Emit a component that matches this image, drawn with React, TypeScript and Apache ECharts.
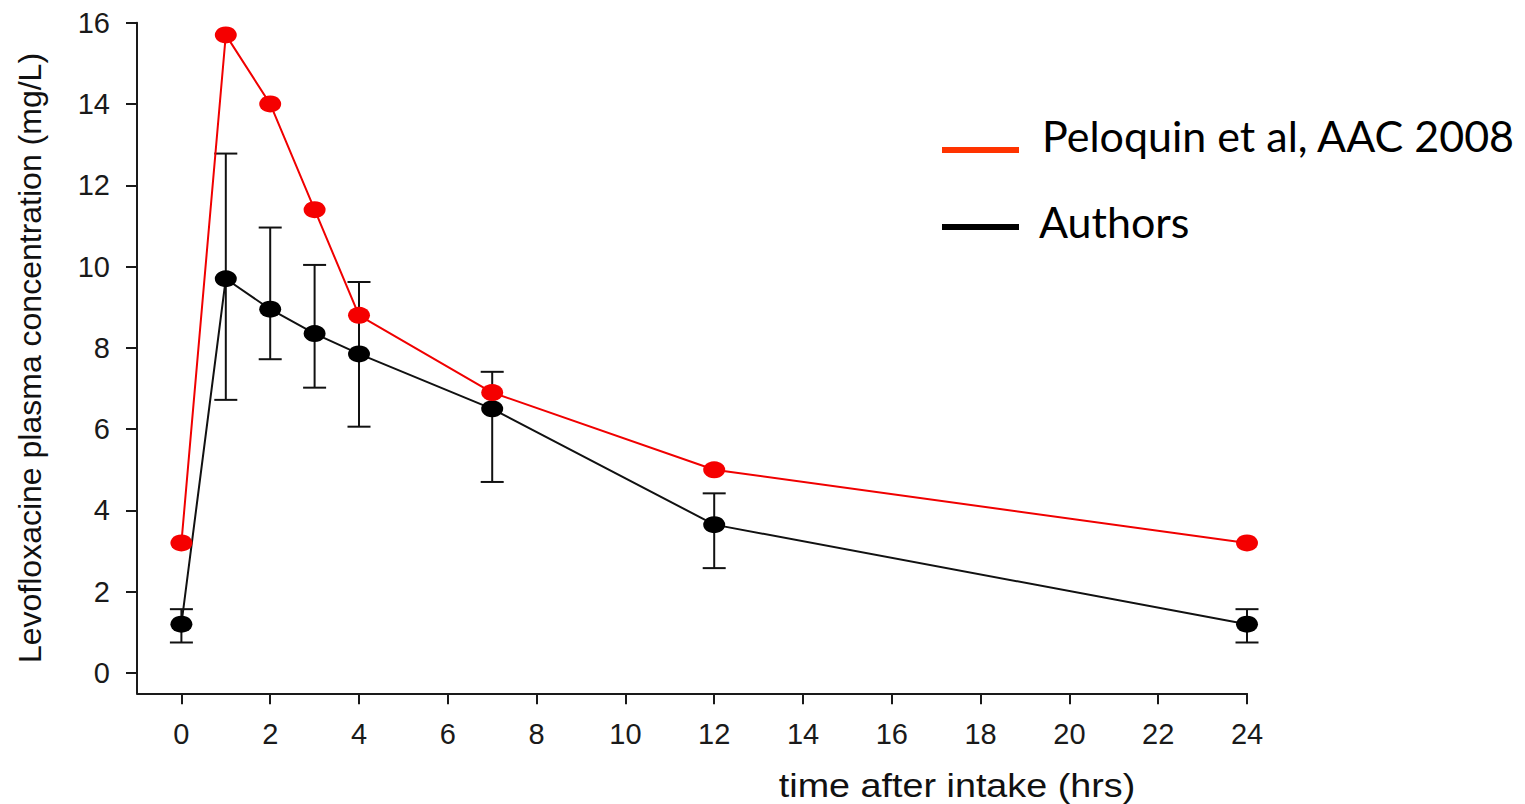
import React, { useEffect, useRef } from "react";
import * as echarts from "echarts";

const hours = [0, 1, 2, 3, 4, 7, 12, 24];
const peloquin = [3.2, 15.7, 14.0, 11.4, 8.8, 6.9, 5.0, 3.2];
const authors = [1.2, 9.7, 8.95, 8.35, 7.85, 6.5, 3.65, 1.2];
const authorsLow = [0.75, 6.72, 7.72, 7.02, 6.06, 4.7, 2.58, 0.75];
const authorsHigh = [1.57, 12.78, 10.96, 10.04, 9.62, 7.41, 4.42, 1.57];
const xTicks = [0, 2, 4, 6, 8, 10, 12, 14, 16, 18, 20, 22, 24];
const yTicks = [0, 2, 4, 6, 8, 10, 12, 14, 16];

const seriesNames = ["Peloquin et al, AAC 2008", "Authors"];
const xTitle = "time after intake (hrs)";
const yTitle = "Levofloxacine plasma concentration (mg/L)";

export default function App() {
  const ref = useRef<HTMLDivElement>(null);

  useEffect(() => {
    if (!ref.current) return;
    const chart = echarts.init(ref.current, null, { renderer: "svg" });
    const axisColor = "#1a1a1a";
    const tickFont = {
      fontFamily: "Liberation Sans, Arial, sans-serif",
      fontSize: 29,
      color: "#1a1a1a",
    };
    const errData = hours.map((h, i) => [h, authorsLow[i], authorsHigh[i]]);

    chart.setOption({
      animation: false,
      backgroundColor: "#ffffff",
      grid: { left: 137, right: 278, top: 22.7, bottom: 110.7, containLabel: false },
      xAxis: {
        type: "value",
        min: -1,
        max: 24,
        splitLine: { show: false },
        axisLine: { show: true, onZero: false, lineStyle: { color: axisColor, width: 2 } },
        axisTick: {
          show: true,
          length: 11,
          inside: false,
          customValues: xTicks,
          lineStyle: { color: axisColor, width: 2 },
        },
        axisLabel: { ...tickFont, margin: 26, customValues: xTicks },
      },
      yAxis: {
        type: "value",
        min: -0.5,
        max: 16,
        splitLine: { show: false },
        axisLine: { show: true, onZero: false, lineStyle: { color: axisColor, width: 2 } },
        axisTick: {
          show: true,
          length: 11,
          inside: false,
          customValues: yTicks,
          lineStyle: { color: axisColor, width: 2 },
        },
        axisLabel: { ...tickFont, margin: 27, customValues: yTicks },
      },
      graphic: [
        {
          type: "text",
          x: 957,
          y: 785,
          scaleX: 1.11,
          style: {
            text: xTitle,
            fontFamily: "Liberation Sans, Arial, sans-serif",
            fontSize: 34,
            fill: "#111",
            align: "center",
            verticalAlign: "middle",
          },
        },
        {
          type: "text",
          x: 30,
          y: 358,
          rotation: Math.PI / 2,
          style: {
            text: yTitle,
            fontFamily: "Liberation Sans, Arial, sans-serif",
            fontSize: 32,
            fill: "#111",
            align: "center",
            verticalAlign: "middle",
          },
        },
        {
          type: "rect",
          shape: { x: 942, y: 147, width: 77, height: 6 },
          style: { fill: "#ff3300" },
        },
        {
          type: "rect",
          shape: { x: 942, y: 224, width: 77, height: 6 },
          style: { fill: "#000000" },
        },
        {
          type: "text",
          x: 1042,
          y: 135,
          style: {
            text: seriesNames[0],
            fontFamily: "Lato, sans-serif",
            fontSize: 43,
            fill: "#000",
            align: "left",
            verticalAlign: "middle",
          },
        },
        {
          type: "text",
          x: 1039,
          y: 221,
          style: {
            text: seriesNames[1],
            fontFamily: "Lato, sans-serif",
            fontSize: 43,
            fill: "#000",
            align: "left",
            verticalAlign: "middle",
          },
        },
      ],
      series: [
        {
          type: "custom",
          name: "errors",
          data: errData,
          encode: { x: 0, y: [1, 2] },
          z: 2,
          renderItem: (params: any, api: any) => {
            const x = api.value(0);
            const pLo = api.coord([x, api.value(1)]);
            const pHi = api.coord([x, api.value(2)]);
            const w = 11.5;
            const style = { stroke: "#111", lineWidth: 2, fill: "none" };
            return {
              type: "group",
              children: [
                { type: "line", shape: { x1: pLo[0], y1: pLo[1], x2: pHi[0], y2: pHi[1] }, style },
                { type: "line", shape: { x1: pLo[0] - w, y1: pLo[1], x2: pLo[0] + w, y2: pLo[1] }, style },
                { type: "line", shape: { x1: pHi[0] - w, y1: pHi[1], x2: pHi[0] + w, y2: pHi[1] }, style },
              ],
            };
          },
        },
        {
          type: "line",
          name: seriesNames[1],
          data: hours.map((h, i) => [h, authors[i]]),
          symbol: "circle",
          symbolSize: [22, 17],
          showSymbol: true,
          z: 3,
          lineStyle: { color: "#111", width: 2 },
          itemStyle: { color: "#000" },
        },
        {
          type: "line",
          name: seriesNames[0],
          data: hours.map((h, i) => [h, peloquin[i]]),
          symbol: "circle",
          symbolSize: [22, 17],
          showSymbol: true,
          z: 4,
          lineStyle: { color: "#f00000", width: 2 },
          itemStyle: { color: "#f50000" },
        },
      ],
    });
    return () => chart.dispose();
  }, []);

  return (
    <div
      ref={ref}
      style={{ position: "fixed", left: 0, top: 0, width: 1525, height: 804, background: "#fff" }}
    />
  );
}
